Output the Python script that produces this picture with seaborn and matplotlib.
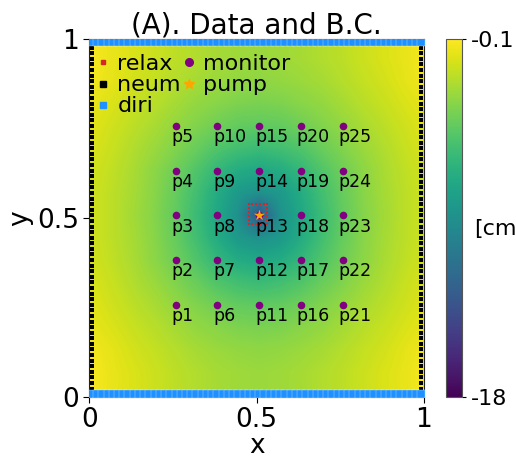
import numpy as np
import matplotlib
matplotlib.use("Agg")
import matplotlib.pyplot as plt
import seaborn as sns
import pandas as pd
from matplotlib.lines import Line2D

# ---------------- data ----------------
# head field [cm], one quadrant on a 1/16 node grid measured from the pump
# rows: distance in y from pump (0 .. 0.5), cols: distance in x from pump (0 .. 0.5)
field_quadrant = [
    [-13.5, -9.0, -7.3, -5.8, -4.4, -3.4, -2.6, -1.9, -1.4],
    [-9.0, -8.4, -7.0, -5.5, -4.3, -3.3, -2.5, -1.9, -1.4],
    [-7.3, -7.0, -6.1, -5.0, -4.0, -3.2, -2.4, -1.8, -1.3],
    [-5.8, -5.5, -5.0, -4.2, -3.5, -2.8, -2.2, -1.6, -1.1],
    [-4.5, -4.4, -4.0, -3.5, -3.0, -2.4, -1.9, -1.4, -0.9],
    [-3.7, -3.6, -3.3, -3.0, -2.5, -2.0, -1.6, -1.1, -0.7],
    [-3.1, -3.0, -2.8, -2.5, -2.1, -1.7, -1.3, -0.8, -0.4],
    [-2.8, -2.7, -2.5, -2.2, -1.9, -1.5, -1.1, -0.7, -0.3],
    [-2.8, -2.7, -2.5, -2.2, -1.9, -1.5, -1.1, -0.7, -0.3],
]
n_cells = 64
pump_x = [0.5078]
pump_y = [0.5078]
monitor_x = [0.2578, 0.3828, 0.5078, 0.6328, 0.7578]
monitor_y = [0.2578, 0.3828, 0.5078, 0.6328, 0.7578]
relax_center = (0.504, 0.512)
relax_offsets = [-0.028, -0.0168, -0.0056, 0.0056, 0.0168, 0.028]
cbar_ticks = [-18, -0.1]
cbar_ticklabels = ["-18", "-0.1"]
axis_ticks = [0, 0.5, 1]
axis_ticklabels = ["0", "0.5", "1"]
title = "(A). Data and B.C."
legend_labels = ["relax", "neum", "diri", "monitor", "pump"]

# ---------------- style ----------------
sns.set_style("ticks")
plt.rcParams["font.family"] = ["DejaVu Sans"]
plt.rcParams["axes.unicode_minus"] = False
for k in ["text.color", "axes.labelcolor", "xtick.color", "ytick.color"]:
    plt.rcParams[k] = "black"

fig = plt.figure(figsize=(5.16, 4.58), dpi=100)
ax = fig.add_axes([0.173, 0.1332, 0.6487, 0.781])
cax = fig.add_axes([0.8643, 0.1332, 0.031, 0.781])

# ---------------- field ----------------
Q = np.array(field_quadrant)
idx = np.abs(np.arange(17) - 8)
field = Q[idx][:, idx]
h = 1.0 / 32
off = pump_x[0] - 0.5
im = ax.imshow(field, origin="lower", cmap="viridis", vmin=-18, vmax=-0.1,
               extent=(-h + off, 1 + h + off, -h + off, 1 + h + off),
               interpolation="bilinear", aspect="auto", zorder=0)

# ---------------- boundary markers ----------------
cc = (np.arange(n_cells) + 0.5) / n_cells
neum_df = pd.DataFrame({"x": np.r_[np.full(n_cells, cc[0]), np.full(n_cells, cc[-1])],
                        "y": np.r_[cc, cc]})
diri_df = pd.DataFrame({"x": np.r_[cc, cc],
                        "y": np.r_[np.full(n_cells, cc[0]), np.full(n_cells, cc[-1])]})
sns.scatterplot(data=neum_df, x="x", y="y", marker="s", color="black", s=10,
                linewidth=0, ax=ax, zorder=3, legend=False)
sns.scatterplot(data=diri_df, x="x", y="y", marker="s", color="dodgerblue", s=27,
                edgecolor="white", linewidth=0.2, ax=ax, zorder=4, legend=False)

# relax ring
rx, ry = [], []
for o in relax_offsets:
    rx += [relax_center[0] + o, relax_center[0] + o]
    ry += [relax_center[1] + relax_offsets[0], relax_center[1] + relax_offsets[-1]]
for o in relax_offsets[1:-1]:
    rx += [relax_center[0] + relax_offsets[0], relax_center[0] + relax_offsets[-1]]
    ry += [relax_center[1] + o, relax_center[1] + o]
sns.scatterplot(x=rx, y=ry, marker="s", color="tab:red", s=4.5, linewidth=0,
                ax=ax, zorder=5, legend=False)

# monitors
mon = pd.DataFrame([(x, y, f"p{i * 5 + j + 1}") for i, x in enumerate(monitor_x)
                    for j, y in enumerate(monitor_y)], columns=["x", "y", "name"])
sns.scatterplot(data=mon, x="x", y="y", color="purple", s=30, linewidth=0,
                ax=ax, zorder=5, legend=False)
for _, r in mon.iterrows():
    ax.text(r.x - 0.013, r.y - 0.006, r["name"], ha="left", va="top",
            fontsize=12.5, color="black", zorder=6)

# pump
sns.scatterplot(x=pump_x, y=pump_y, marker="*", color="orange", s=70, linewidth=0,
                ax=ax, zorder=7, legend=False)

# ---------------- legend ----------------
handles = [
    Line2D([], [], ls="", marker="s", color="tab:red", markersize=2.2),
    Line2D([], [], ls="", marker="s", color="black", markersize=4.5),
    Line2D([], [], ls="", marker="s", color="dodgerblue", markersize=4.5),
    Line2D([], [], ls="", marker="o", color="purple", markersize=5.5),
    Line2D([], [], ls="", marker="*", color="orange", markersize=7.5),
]
ax.legend(handles, legend_labels, ncol=2, loc="upper left", frameon=False,
          bbox_to_anchor=(0.0, 0.975),
          fontsize=16, labelspacing=0.05, handlelength=0.7, handletextpad=0.3,
          columnspacing=0.0, borderaxespad=0.13, borderpad=0.14)

# ---------------- axes ----------------
ax.set_xlim(0, 1)
ax.set_ylim(0, 1)
ax.set_xticks(axis_ticks)
ax.set_xticklabels(axis_ticklabels)
ax.set_yticks(axis_ticks)
ax.set_yticklabels(axis_ticklabels)
ax.tick_params(labelsize=19, length=4)
ax.set_xlabel("x", fontsize=19, labelpad=0)
ax.set_ylabel("y", fontsize=19, labelpad=3)
ax.set_title(title, fontsize=20, pad=1.5)
for s in ax.spines.values():
    s.set_color("#222222")

cb = fig.colorbar(im, cax=cax, ticks=cbar_ticks)
cb.ax.set_yticklabels(cbar_ticklabels)
cb.ax.tick_params(labelsize=16, length=3)
cb.outline.set_edgecolor("#555555")
fig.text(474 / 516, 1 - 229 / 458, "[cm]", ha="left", va="center", fontsize=16)

fig.savefig("out.png", dpi=100)
